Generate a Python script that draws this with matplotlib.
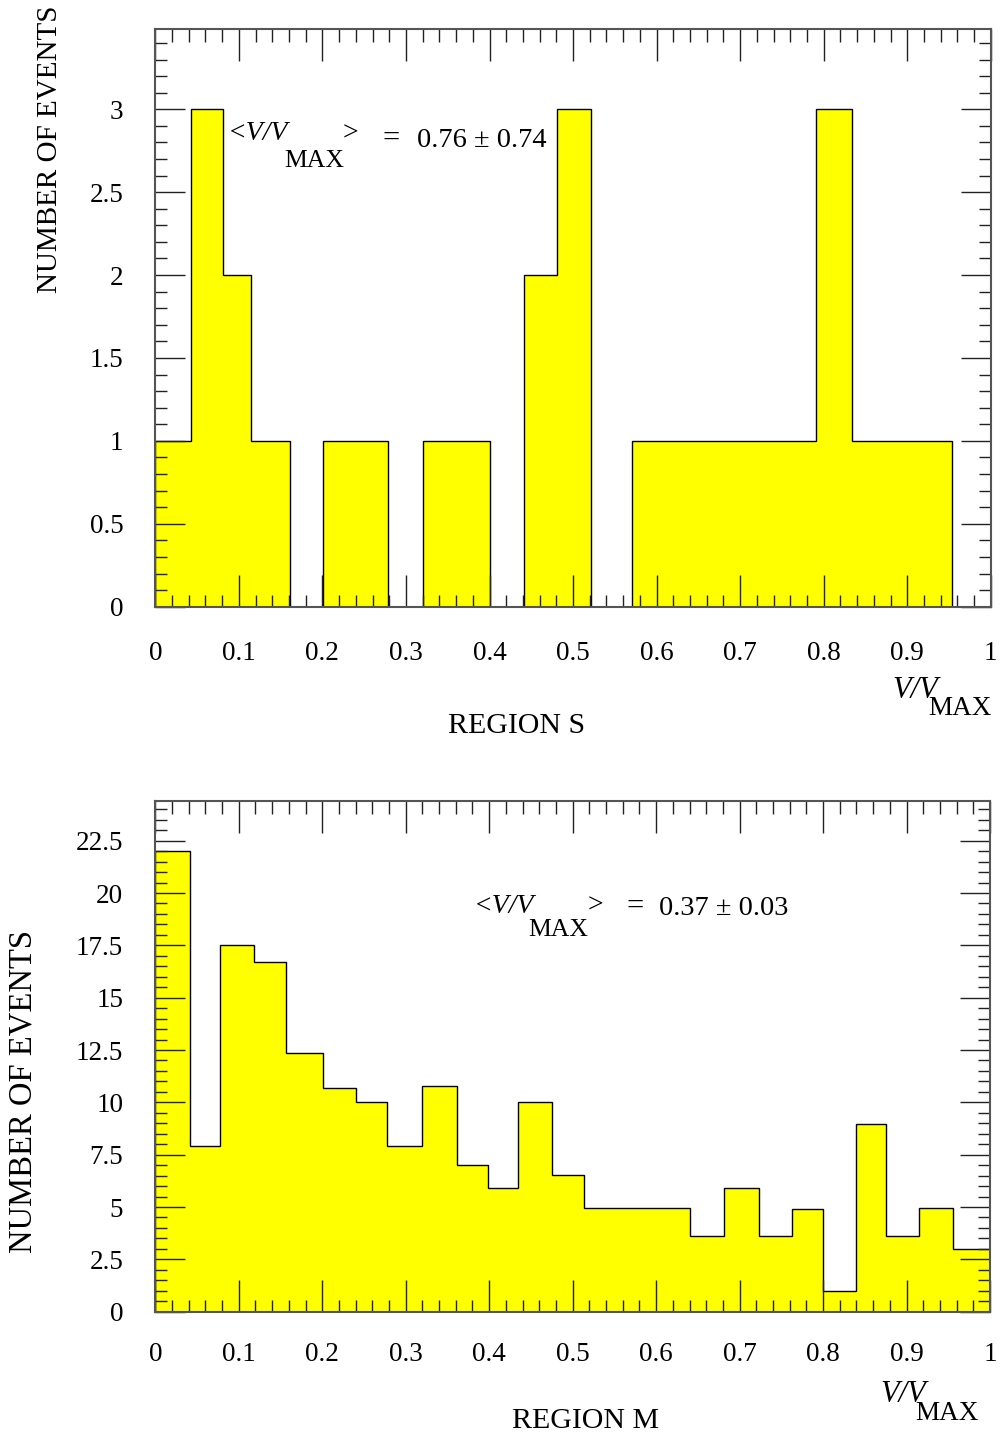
import numpy as np
import matplotlib.pyplot as plt
from matplotlib.ticker import MultipleLocator

plt.rcParams['font.family'] = ['Liberation Serif', 'DejaVu Serif']

# region S: bin edges and counts
s_edges = [0.0, 0.043, 0.081, 0.115, 0.161, 0.201, 0.279, 0.320, 0.400,
           0.441, 0.481, 0.522, 0.570, 0.791, 0.834, 0.954, 1.0]
s_counts = [1, 3, 2, 1, 0, 1, 0, 1, 0, 2, 3, 0, 1, 3, 1, 0]
s_mean = "0.76 \u00b1 0.74"

# region M: bin edges and counts
m_edges = [0.0, 0.042, 0.078, 0.118, 0.156, 0.2005, 0.241, 0.278, 0.320,
           0.361, 0.399, 0.435, 0.475, 0.514, 0.556, 0.598, 0.640, 0.681,
           0.723, 0.763, 0.800, 0.840, 0.876, 0.915, 0.956, 1.0]
m_counts = [22.0, 7.9, 17.5, 16.7, 12.35, 10.7, 10.0, 7.9, 10.8, 7.0, 5.9,
            10.0, 6.55, 4.95, 4.95, 4.95, 3.6, 5.9, 3.6, 4.9, 1.0, 8.95,
            3.6, 4.95, 3.0]
m_mean = "0.37 \u00b1 0.03"

W, H = 1000, 1437
fig = plt.figure(figsize=(W / 100, H / 100), dpi=100)


def px(x, y):
    return x / W, 1 - y / H


def put(x, y, s, size, style='normal', ha='left', va='baseline', rot=0):
    fx, fy = px(x, y)
    fig.text(fx, fy, s, fontsize=size, style=style, ha=ha, va=va, rotation=rot, color='black')


def panel(rect, edges, counts, ymax, ymaj, ymin, xpad):
    ax = fig.add_axes(rect)
    ax.stairs(counts, edges, fill=True, facecolor='#ffff00', edgecolor='black', linewidth=1.0)
    ax.set_xlim(0, 1)
    ax.set_ylim(0, ymax)
    ax.xaxis.set_major_locator(MultipleLocator(0.1))
    ax.xaxis.set_minor_locator(MultipleLocator(0.02))
    ax.yaxis.set_major_locator(MultipleLocator(ymaj))
    ax.yaxis.set_minor_locator(MultipleLocator(ymin))
    ax.xaxis.set_major_formatter(plt.FuncFormatter(lambda v, p: f"{v:g}"))
    ax.yaxis.set_major_formatter(plt.FuncFormatter(lambda v, p: f"{v:g}"))
    ax.tick_params(which='both', direction='in', top=True, right=True, color='#222222', width=1.0, labelsize=19.5)
    ax.tick_params(axis='x', which='major', length=23, pad=xpad)
    ax.tick_params(axis='x', which='minor', length=9)
    ax.tick_params(axis='y', which='major', length=21.5, pad=23)
    ax.tick_params(axis='y', which='minor', length=8.5)
    for sp in ax.spines.values():
        sp.set_color('#555555')
        sp.set_linewidth(1.5)
    return ax


# upper panel: region S
panel([155.3 / W, 1 - 606.7 / H, 835.5 / W, 577.7 / H], s_edges, s_counts, 3.484, 0.5, 0.1, 24.5)
put(50.5, 293, "NUMBER OF EVENTS", 21, ha='center', va='bottom', rot=90)
put(228, 140, "<V/V", 20, style='italic')
put(284, 167, "MAX", 18.5)
put(343, 140, ">", 20)
put(383, 147, "=", 22)
put(417, 147, s_mean, 20.5)
put(892, 698, "V/V", 22, style='italic')
put(928, 715, "MAX", 19.5)
put(516.5, 733, "REGION S", 21.5, ha='center')

# lower panel: region M
panel([155.3 / W, 1 - 1311.7 / H, 834.7 / W, 511 / H], m_edges, m_counts, 24.41, 2.5, 0.5, 21.5)
put(23, 1253, "NUMBER OF EVENTS", 23.5, ha='center', va='bottom', rot=90)
put(474, 913, "<V/V", 20, style='italic')
put(528, 936, "MAX", 18.5)
put(588, 913, ">", 20)
put(626, 915, "=", 22)
put(659, 915, m_mean, 20.5)
put(880, 1402, "V/V", 22, style='italic')
put(915, 1420, "MAX", 19.5)
put(585, 1428, "REGION M", 21.5, ha='center')

fig.savefig("out.png", dpi=100)
